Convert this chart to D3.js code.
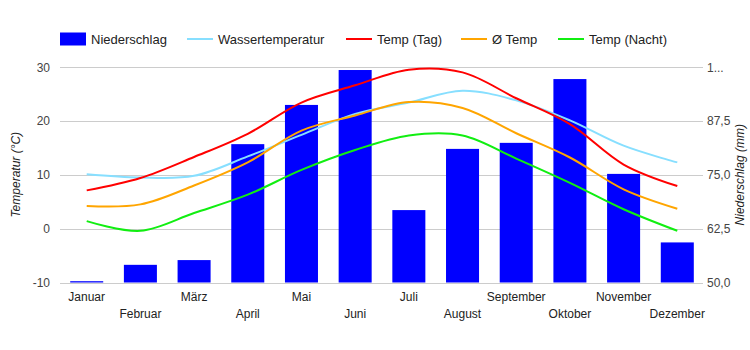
<!DOCTYPE html>
<html>
<head>
<meta charset="utf-8">
<script src="https://cdn.jsdelivr.net/npm/d3@7"></script>
<style>
  body { margin: 0; background: #fff; }
  text { font-family: Arial, "Liberation Sans", sans-serif; }
</style>
</head>
<body>
<div id="chart"></div>
<script>
const months = ['Januar', 'Februar', 'März', 'April', 'Mai', 'Juni', 'Juli', 'August', 'September', 'Oktober', 'November', 'Dezember']
const niederschlag = [50.3, 54.1, 55.2, 82.1, 91.2, 99.3, 66.8, 81.0, 82.4, 97.2, 75.2, 59.3]
const wasserTemp = [10.1, 9.5, 9.8, 13.4, 17.4, 21.3, 23.4, 25.6, 23.8, 20.1, 15.4, 12.3]
const tempTag = [7.1, 9.4, 13.3, 17.6, 23.4, 26.6, 29.5, 29.0, 24.2, 19.4, 11.9, 7.9]
const tempAvg = [4.2, 4.5, 8.0, 12.3, 18.2, 21.0, 23.5, 22.4, 17.7, 13.2, 7.3, 3.7]
const tempNacht = [1.4, -0.4, 2.9, 6.3, 10.9, 14.6, 17.3, 17.3, 13.0, 8.5, 3.6, -0.4]
const tempTicks = [-10, 0, 10, 20, 30]
const rainTicks = [50, 62.5, 75, 87.5, 100]

const W = 750, H = 350
const plotLeft = 60, plotRight = 704, plotTop = 67, plotBottom = 282.5

const svg = d3.select('#chart').append('svg')
    .attr('width', W)
    .attr('height', H)

const x = d3.scaleBand().domain(months).range([plotLeft, plotRight]).paddingInner(0.385).paddingOuter(0.19)
const yT = d3.scaleLinear().domain([-10, 30]).range([plotBottom, plotTop])
const yR = d3.scaleLinear().domain([50, 100]).range([plotBottom, plotTop])

// grid
svg.append('g').selectAll('line')
    .data(tempTicks)
    .join('line')
    .attr('x1', plotLeft).attr('x2', plotRight - 1)
    .attr('y1', d => Math.round(yT(d)) + 0.5)
    .attr('y2', d => Math.round(yT(d)) + 0.5)
    .attr('stroke', '#cccccc')
    .attr('stroke-width', 1)

// left tick labels
svg.append('g').selectAll('text')
    .data(tempTicks)
    .join('text')
    .text(d => d)
    .attr('x', 50)
    .attr('y', d => yT(d) + 4.5)
    .attr('text-anchor', 'end')
    .attr('font-size', 12)
    .attr('fill', '#444')

// right tick labels
svg.append('g').selectAll('text')
    .data(rainTicks)
    .join('text')
    .text(d => d === 100 ? '1...' : d.toFixed(1).replace('.', ','))
    .attr('x', 707)
    .attr('y', d => yR(d) + 4.5)
    .attr('font-size', 12)
    .attr('fill', '#444')

// axis titles
svg.append('text')
    .text('Temperatur (°C)')
    .attr('transform', `translate(20, ${(plotTop + plotBottom) / 2}) rotate(-90)`)
    .attr('text-anchor', 'middle')
    .attr('font-size', 12)
    .attr('font-style', 'italic')
    .attr('fill', '#222')

svg.append('text')
    .text('Niederschlag (mm)')
    .attr('transform', `translate(744, ${(plotTop + plotBottom) / 2}) rotate(-90)`)
    .attr('text-anchor', 'middle')
    .attr('font-size', 12)
    .attr('font-style', 'italic')
    .attr('fill', '#222')

// bars
svg.append('g').selectAll('rect')
    .data(niederschlag)
    .join('rect')
    .attr('x', (d, i) => x(months[i]))
    .attr('width', x.bandwidth())
    .attr('y', d => yR(d))
    .attr('height', d => plotBottom - yR(d))
    .attr('fill', '#0000ff')

// lines
const series = [
    { name: 'Wassertemperatur', values: wasserTemp, color: '#87dfff' },
    { name: 'Temp (Tag)', values: tempTag, color: '#ff0000' },
    { name: 'Ø Temp', values: tempAvg, color: '#ffa500' },
    { name: 'Temp (Nacht)', values: tempNacht, color: '#11ee11' }
]

const line = d3.line()
    .x((d, i) => x(months[i]) + x.bandwidth() / 2)
    .y(d => yT(d))
    .curve(d3.curveCatmullRom.alpha(0.5))

svg.append('g').selectAll('path')
    .data(series)
    .join('path')
    .attr('d', d => line(d.values))
    .attr('fill', 'none')
    .attr('stroke', d => d.color)
    .attr('stroke-width', 2)

// month labels, alternating rows
svg.append('g').selectAll('text')
    .data(months)
    .join('text')
    .text(d => d)
    .attr('x', d => x(d) + x.bandwidth() / 2)
    .attr('y', (d, i) => i % 2 === 0 ? 301 : 318)
    .attr('text-anchor', 'middle')
    .attr('font-size', 12)
    .attr('fill', '#222')

// legend
const legendItems = [
    { name: 'Niederschlag', color: '#0000ff', bar: true, x: 60 },
    { name: 'Wassertemperatur', color: '#87dfff', x: 187 },
    { name: 'Temp (Tag)', color: '#ff0000', x: 346 },
    { name: 'Ø Temp', color: '#ffa500', x: 461 },
    { name: 'Temp (Nacht)', color: '#11ee11', x: 558 }
]

const legend = svg.append('g')
const li = legend.selectAll('g')
    .data(legendItems)
    .join('g')
    .attr('transform', d => `translate(${d.x}, 39)`)

li.filter(d => d.bar).append('rect')
    .attr('x', 0).attr('y', -6.5)
    .attr('width', 26).attr('height', 13)
    .attr('fill', d => d.color)

li.filter(d => !d.bar).append('line')
    .attr('x1', 0).attr('x2', 26)
    .attr('y1', 0).attr('y2', 0)
    .attr('stroke', d => d.color)
    .attr('stroke-width', 2)

li.append('text')
    .text(d => d.name)
    .attr('x', 31)
    .attr('y', 4.5)
    .attr('font-size', 13)
    .attr('fill', '#222')
</script>
</body>
</html>
